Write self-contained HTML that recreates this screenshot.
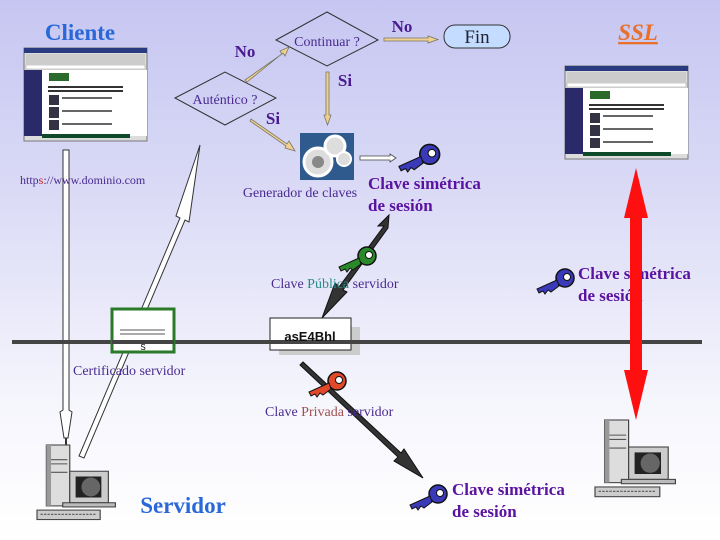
<!DOCTYPE html>
<html><head><meta charset="utf-8"><style>
body{margin:0;width:720px;height:540px;overflow:hidden;}
svg{display:block;font-family:"Liberation Serif",serif;}
</style></head><body>
<svg width="720" height="540" viewBox="0 0 720 540" xmlns="http://www.w3.org/2000/svg">
<defs>
<linearGradient id="bg" x1="0" y1="0" x2="0" y2="1">
<stop offset="0" stop-color="#c6c6f2"/><stop offset="0.35" stop-color="#dadaf6"/><stop offset="0.75" stop-color="#f6f6fd"/><stop offset="1" stop-color="#ffffff"/></linearGradient>
<g id="browser">
<rect x="0" y="0" width="123" height="93" fill="#dcdcdc" stroke="#777"/>
<rect x="0" y="0" width="123" height="5" fill="#2a3a80"/>
<rect x="2" y="6" width="119" height="10" fill="#ccc"/>
<rect x="2" y="17" width="119" height="4" fill="#fff" stroke="#999" stroke-width="0.5"/>
<rect x="0" y="22" width="18" height="66" fill="#2a2a6a"/>
<rect x="18" y="22" width="105" height="66" fill="#fff"/>
<rect x="25" y="25" width="20" height="8" fill="#2a6a2a"/>
<rect x="24" y="38" width="75" height="2" fill="#333"/>
<rect x="24" y="42" width="75" height="2" fill="#333"/>
<rect x="25" y="47" width="10" height="10" fill="#334"/>
<rect x="25" y="59" width="10" height="11" fill="#334"/>
<rect x="25" y="72" width="10" height="10" fill="#334"/>
<rect x="38" y="49" width="50" height="2" fill="#666"/>
<rect x="38" y="62" width="50" height="2" fill="#666"/>
<rect x="38" y="75" width="50" height="2" fill="#666"/>
<rect x="18" y="86" width="88" height="4" fill="#0e4a2a"/>
</g>
<g id="key">
<circle cx="30" cy="8" r="9" fill="currentColor" stroke="#111" stroke-width="1.5"/>
<circle cx="32" cy="7" r="3.5" fill="#fff" stroke="#111"/>
<path d="M22,10 L2,19 L4,23 L8,21 L10,24 L13,20 L16,22 L24,16 Z" fill="currentColor" stroke="#111" stroke-width="1"/>
</g>
<g id="pc">
<rect x="8" y="0" width="20" height="58" fill="#ddd" stroke="#444"/>
<rect x="8" y="0" width="4" height="58" fill="#999"/>
<line x1="12" y1="14" x2="26" y2="14" stroke="#555"/>
<line x1="12" y1="18" x2="26" y2="18" stroke="#555"/>
<line x1="12" y1="26" x2="26" y2="26" stroke="#555"/>
<rect x="28" y="25" width="33" height="30" fill="#ccc" stroke="#444"/>
<rect x="33" y="30" width="22" height="20" fill="#222"/>
<ellipse cx="46" cy="40" rx="8" ry="9" fill="#666"/>
<rect x="22" y="55" width="45" height="4" fill="#bbb" stroke="#444"/>
<rect x="0" y="62" width="54" height="9" fill="#ccc" stroke="#444"/>
<line x1="3" y1="66" x2="50" y2="66" stroke="#555" stroke-dasharray="2 1"/>
</g>
</defs>
<rect width="720" height="540" fill="url(#bg)"/>

<!-- hollow arrows -->
<polygon points="63,150 69,150 69,410 72,412 68,438 64,438 60,412 63,410" fill="#fff" stroke="#333" stroke-width="1"/>
<line x1="66" y1="438" x2="66" y2="448" stroke="#333" stroke-width="2"/>
<polygon points="200,145 189,222 185,220 84,458 79,456 180,218 176,216" fill="#fff" stroke="#333" stroke-width="1"/>

<!-- browsers -->
<use href="#browser" x="24" y="48"/>
<use href="#browser" x="565" y="66"/>

<text x="80" y="40" text-anchor="middle" font-size="23" font-weight="bold" fill="#2a68d8">Cliente</text>
<text x="638" y="40" text-anchor="middle" font-size="23" font-weight="bold" font-style="italic" fill="#e8702a" text-decoration="underline">SSL</text>

<!-- diamonds -->
<polygon points="276,40 327,12 378,40 327,66" fill="none" stroke="#333"/>
<text x="327" y="46" text-anchor="middle" font-size="14" fill="#4a2a90">Continuar ?</text>
<polygon points="175,98 225,72 276,98 225,125" fill="none" stroke="#333"/>
<text x="225" y="104" text-anchor="middle" font-size="14" fill="#4a2a90">Auténtico ?</text>

<!-- tan arrows -->
<g fill="#f0d090" stroke="#776" stroke-width="0.8">
<polygon points="245,80 282,54 280,51 289,47 285,56 283,53 247,82"/>
<polygon points="326,72 329,72 329,115 331,115 327.5,125 324,115 326,115"/>
<polygon points="251,119 287,144 289,141 295,151 285,148 286,146 250,121"/>
<polygon points="384,38 428,38 428,36 438,39.5 428,43 428,41 384,41"/>
</g>
<text x="245" y="57" text-anchor="middle" font-size="17" font-weight="bold" fill="#4a1a90">No</text>
<text x="402" y="32" text-anchor="middle" font-size="17" font-weight="bold" fill="#4a1a90">No</text>
<text x="345" y="86" text-anchor="middle" font-size="17" font-weight="bold" fill="#4a1a90">Si</text>
<text x="273" y="124" text-anchor="middle" font-size="17" font-weight="bold" fill="#4a1a90">Si</text>

<rect x="444" y="25" width="66" height="23" rx="11" fill="#c4dcff" stroke="#333"/>
<text x="477" y="43" text-anchor="middle" font-size="19" fill="#223">Fin</text>

<!-- gears -->
<rect x="300" y="133" width="54" height="47" fill="#2e5a8e"/>
<circle cx="318" cy="162" r="14" fill="#ddd" stroke="#fff" stroke-width="3"/>
<circle cx="318" cy="162" r="6" fill="#888"/>
<circle cx="335" cy="146" r="10" fill="#ddd" stroke="#fff" stroke-width="3"/>
<circle cx="344" cy="159" r="7" fill="#ddd" stroke="#fff" stroke-width="2"/>
<text x="300" y="197" text-anchor="middle" font-size="14" fill="#4a2a90">Generador de claves</text>
<polygon points="360,156 390,156 390,154 396,158 390,162 390,160 360,160" fill="#fff" stroke="#444" stroke-width="0.8"/>
<use href="#key" x="397" y="145" color="#3a3ab8" transform="translate(-40,-14) scale(1.1)"/>
<g font-size="17" font-weight="bold" fill="#5a12a0">
<text x="368" y="189">Clave simétrica</text><text x="368" y="211">de sesión</text>
<text x="578" y="279">Clave simétrica</text><text x="578" y="301">de sesión</text>
<text x="452" y="495">Clave simétrica</text><text x="452" y="517">de sesión</text>
</g>

<!-- dark arrows (pointing down) -->
<polygon points="389,215 378,226 384,226 339,287 335,283 322,318 347,292 343,290 388,228 Z" fill="#333" stroke="#111"/>
<polygon points="300,365 398,457 394,461 423,478 404,449 401,453 303,362 Z" fill="#333" stroke="#111"/>
<use href="#key" x="337" y="248" color="#2a8a2a"/>
<use href="#key" x="307" y="373" color="#e04a2a"/>
<use href="#key" x="535" y="270" color="#3a3ab8"/>
<use href="#key" x="408" y="486" color="#3a3ab8"/>

<text x="271" y="288" font-size="14" fill="#4a2a90">Clave <tspan fill="#2a8a8a">Pública</tspan> servidor</text>
<text x="265" y="416" font-size="14" fill="#4a2a90">Clave <tspan fill="#a05050">Privada</tspan> servidor</text>
<text x="20" y="184" font-size="12" fill="#4a2a90">http<tspan fill="#d02020">s</tspan>://www.dominio.com</text>

<!-- asE4Bhl -->
<rect x="279" y="327" width="81" height="28" fill="#ccc"/>
<rect x="270" y="318" width="81" height="32" fill="#fff" stroke="#222"/>
<rect x="12" y="340" width="690" height="4" fill="#444"/>
<text x="310" y="341" text-anchor="middle" font-family="Liberation Sans,sans-serif" font-size="13" font-weight="bold" fill="#111">asE4Bhl</text>

<!-- cert -->
<rect x="112" y="309" width="62" height="43" fill="#fff" stroke="#2a7a2a" stroke-width="3"/>
<line x1="120" y1="330" x2="165" y2="330" stroke="#555"/>
<line x1="120" y1="334" x2="165" y2="334" stroke="#555"/>
<rect x="112" y="340" width="62" height="4" fill="#444"/>
<text x="143" y="350" text-anchor="middle" font-size="8" font-family="Liberation Sans,sans-serif">S</text>
<text x="73" y="375" font-size="14" fill="#4a2a90">Certificado servidor</text>

<!-- red double arrow -->
<polygon points="636,168 648,218 642,218 642,370 648,370 636,420 624,370 630,370 630,218 624,218" fill="#ff1010"/>

<use href="#pc" transform="translate(37,445) scale(1.17,1.05)"/>
<use href="#pc" transform="translate(595,420) scale(1.2,1.08)"/>
<text x="183" y="513" text-anchor="middle" font-size="23" font-weight="bold" fill="#2a68d8">Servidor</text>
</svg>
</body></html>
